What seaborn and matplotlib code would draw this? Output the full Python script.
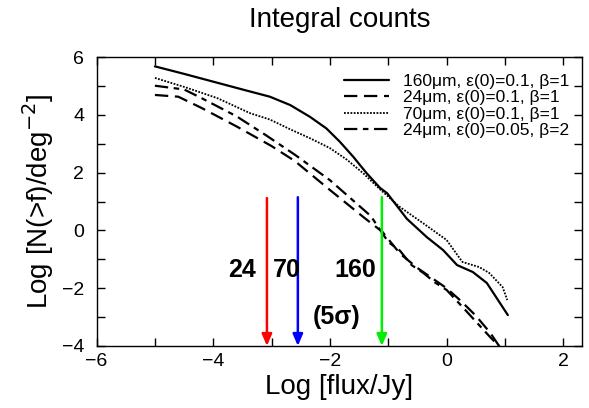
import numpy as np
import pandas as pd
import matplotlib
matplotlib.use("Agg")
import matplotlib.pyplot as plt
import seaborn as sns

# curves (log flux, log N(>f))
x160 = [-5.0, -4.5, -4.0, -3.5, -3.03, -2.68, -2.34, -2.06, -1.83, -1.6, -1.37, -1.14, -1.02,
        -0.68, -0.34, -0.06, 0.18, 0.45, 0.69, 1.05]
y160 = [5.68, 5.42, 5.15, 4.88, 4.63, 4.34, 3.93, 3.53, 3.07, 2.55, 1.98, 1.47, 1.29,
        0.4, -0.23, -0.68, -1.2, -1.44, -1.82, -2.93]

x24a = [-5.0, -4.6, -4.2, -3.6, -3.0, -2.6, -2.0, -1.4, -1.1, -0.8, -0.5, -0.25, 0.0, 0.25, 0.5, 0.75, 0.9]
y24a = [4.69, 4.63, 4.24, 3.6, 2.92, 2.4, 1.4, 0.42, -0.05, -0.8, -1.3, -1.65, -2.0, -2.45, -2.95, -3.55, -4.0]

x70 = [-5.0, -4.5, -3.93, -3.37, -3.03, -2.68, -2.34, -2.0, -1.71, -1.43, -1.14, -0.8, -0.41, 0.0,
       0.27, 0.56, 0.73, 0.96, 1.04]
y70 = [5.28, 4.97, 4.58, 4.06, 3.84, 3.5, 3.19, 2.85, 2.45, 1.98, 1.42, 0.81, 0.26, -0.33,
       -1.09, -1.27, -1.47, -1.96, -2.41]

x24b = [-5.0, -4.5, -4.2, -3.6, -3.1, -2.6, -2.0, -1.3, -1.0, -0.8, -0.6, -0.4, -0.2, 0.0, 0.25, 0.5, 0.75, 0.92]
y24b = [5.01, 4.88, 4.58, 3.95, 3.3, 2.62, 1.74, 0.5, -0.4, -0.7, -1.2, -1.47, -1.8, -2.06, -2.6, -3.15, -3.7, -4.05]

labels = ["160\u03bcm, \u03b5(0)=0.1, \u03b2=1",
          "24\u03bcm, \u03b5(0)=0.1, \u03b2=1",
          "70\u03bcm, \u03b5(0)=0.1, \u03b2=1",
          "24\u03bcm, \u03b5(0)=0.05, \u03b2=2"]

# 5 sigma limits
limit_x = [-3.08, -2.55, -1.11]
limit_top = [1.12, 1.15, 1.15]
limit_colors = ["red", "blue", "#00ee00"]
limit_names = ["24", "70", "160"]
name_x = [-3.51, -2.74, -1.57]

sns.set_style("ticks")
plt.rcParams["font.family"] = ["Liberation Sans", "DejaVu Sans"]
plt.rcParams.update({"text.color": "black", "axes.labelcolor": "black",
                     "xtick.color": "black", "ytick.color": "black",
                     "axes.edgecolor": "black"})

fig = plt.figure(figsize=(5.89, 4.08), dpi=100)
ax = fig.add_axes([0.164, 0.152, 0.824, 0.708])

styles = ["-", (0, (6, 3)), (0, (1, 0.8)), (0, (6, 2.5, 2.5, 2.5))]
widths = [1.6, 1.6, 1.3, 1.6]
for xs, ys, lab, ls, lw in zip([x160, x24a, x70, x24b], [y160, y24a, y70, y24b],
                               labels, styles, widths):
    df = pd.DataFrame({"x": xs, "y": ys})
    sns.lineplot(data=df, x="x", y="y", ax=ax, color="black", linestyle=ls,
                 linewidth=lw, label=lab, sort=False, estimator=None)

for lx, lt, c in zip(limit_x, limit_top, limit_colors):
    ax.annotate("", xy=(lx, -4), xytext=(lx, lt),
                arrowprops=dict(arrowstyle="-|>,head_length=0.7,head_width=0.3",
                                color=c, lw=1.8, shrinkA=0, shrinkB=0))
for nx, nm in zip(name_x, limit_names):
    ax.text(nx, -1.37, nm, fontsize=18, fontweight="bold", ha="center", va="center")
ax.text(-1.88, -3.0, "(5\u03c3)", fontsize=18, fontweight="bold", ha="center", va="center")

ax.set_xlim(-6, 2.32)
ax.set_ylim(-4, 6)
ax.set_xticks([-6, -4, -2, 0, 2])
ax.set_yticks([-4, -2, 0, 2, 4, 6])
ax.set_xticks(np.arange(-5, 2.5, 2), minor=True)
ax.set_yticks(np.arange(-3, 6, 2), minor=True)
ax.tick_params(which="both", direction="in", top=True, right=True, length=5.5, width=1,
               labelsize=14)
ax.tick_params(axis="x", pad=5)
ax.tick_params(axis="y", pad=9)
for s in ax.spines.values():
    s.set_linewidth(1)

ax.set_xlabel("Log [flux/Jy]", fontsize=20, labelpad=3)
ax.set_ylabel("Log [N(>f)/deg$^{-2}$]", fontsize=20, labelpad=4)
ax.set_title("Integral counts", fontsize=20, pad=22)

leg = ax.legend(loc="upper right", frameon=False, fontsize=12.5, handlelength=2.6,
                labelspacing=0.08, handletextpad=0.85, borderaxespad=0.3,
                bbox_to_anchor=(1.0, 0.985))

fig.savefig("out.png", dpi=100)
